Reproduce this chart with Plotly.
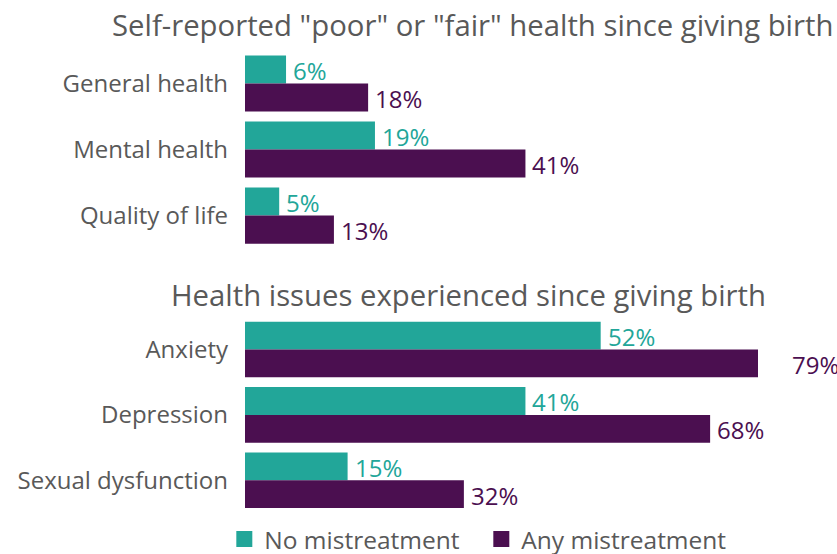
import plotly.graph_objects as go
from plotly.subplots import make_subplots

top_categories = ["General health", "Mental health", "Quality of life"]
top_no = [6, 19, 5]
top_any = [18, 41, 13]

bottom_categories = ["Anxiety", "Depression", "Sexual dysfunction"]
bottom_no = [52, 41, 15]
bottom_any = [79, 68, 32]

series_names = ["No mistreatment", "Any mistreatment"]
top_title = 'Self-reported "poor" or "fair" health since giving birth'
bottom_title = "Health issues experienced since giving birth"

X_MAX = 75  # visible axis range (longest bar is cut at the edge)

TEAL = "#22A699"
PURPLE = "#4B0F50"
GRAY = "#595959"
FONT = "Open Sans"
FS = 24

fig = make_subplots(rows=2, cols=1, vertical_spacing=0.1)

def add(cats, vals, name, color, row, shift):
    fig.add_trace(go.Bar(
        y=cats, x=vals, orientation="h", name=name,
        marker=dict(color=color, line=dict(width=0)),
        showlegend=False, hoverinfo="skip",
    ), row=row, col=1)
    xr = "x domain" if row == 1 else "x2 domain"
    yr = "y" if row == 1 else "y2"
    for c, v in zip(cats, vals):
        fig.add_annotation(x=v / X_MAX, y=c, xref=xr, yref=yr, text=f"{v}%", showarrow=False,
                           xanchor="left", yanchor="middle", xshift=5, yshift=shift,
                           font=dict(color=color, size=FS, family=FONT))

add(top_categories, top_no, series_names[0], TEAL, 1, 13)
add(top_categories, top_any, series_names[1], PURPLE, 1, -15)
add(bottom_categories, bottom_no, series_names[0], TEAL, 2, 13)
add(bottom_categories, bottom_any, series_names[1], PURPLE, 2, -15)

# legend entries
for name, color in zip(series_names, [TEAL, PURPLE]):
    fig.add_trace(go.Scatter(x=[None], y=[None], mode="markers", name=name,
                             marker=dict(symbol="square", size=16, color=color),
                             showlegend=True, hoverinfo="skip"), row=1, col=1)

fig.update_layout(
    width=837, height=554,
    margin=dict(l=245, r=79, t=50, b=41, autoexpand=False),
    barmode="group", bargap=0.15, bargroupgap=0,
    plot_bgcolor="white", paper_bgcolor="white",
    font=dict(family=FONT, size=FS, color=GRAY),
    legend=dict(orientation="h", x=0.268, xanchor="left", xref="container",
                y=0.027, yanchor="middle", yref="container",
                font=dict(size=24.5, color=GRAY, family=FONT),
                entrywidth=212, traceorder="normal"),
    yaxis=dict(domain=[0.571, 1.0]),
    yaxis2=dict(domain=[0.0, 0.4255]),
)
for ax in ["xaxis", "xaxis2"]:
    fig.layout[ax].update(range=[0, X_MAX], visible=False, showgrid=False, zeroline=False, fixedrange=True)
for ax in ["yaxis", "yaxis2"]:
    fig.layout[ax].update(autorange="reversed", showgrid=False, zeroline=False, showline=False,
                          ticks="", ticklabelstandoff=16,
                          tickfont=dict(size=FS, color=GRAY, family=FONT))

fig.add_annotation(text=top_title, xref="paper", yref="paper", x=0.444, xanchor="center",
                   y=1.054, yanchor="middle", showarrow=False,
                   font=dict(size=29.3, color=GRAY, family=FONT))
fig.add_annotation(text=bottom_title, xref="paper", yref="paper", x=0.435, xanchor="center",
                   y=0.4708, yanchor="middle", showarrow=False,
                   font=dict(size=29.3, color=GRAY, family=FONT))

fig.write_html("out.html")
